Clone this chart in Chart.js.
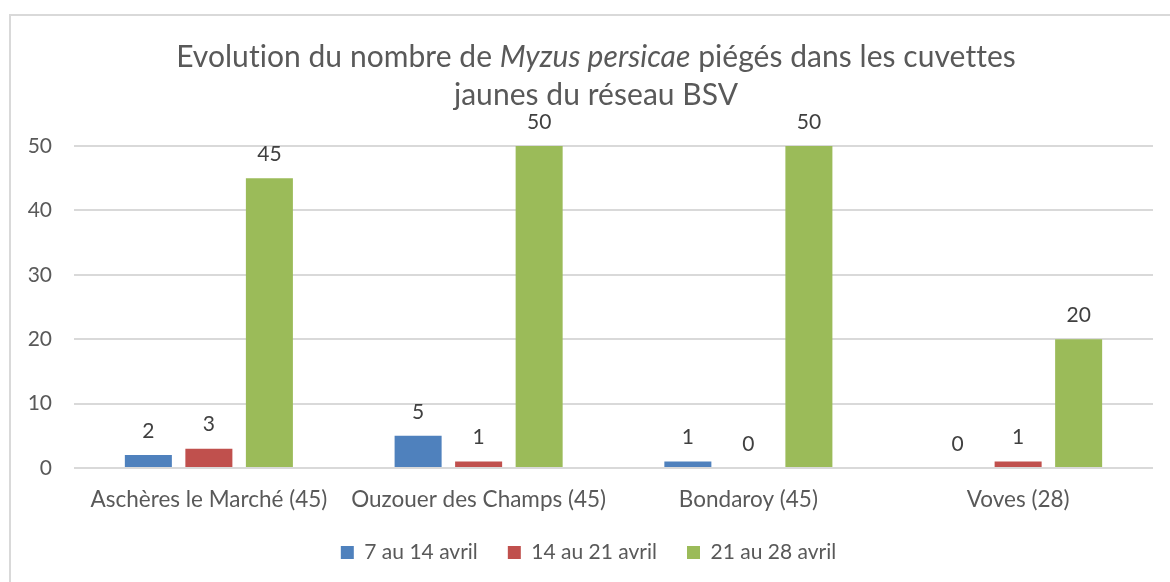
<!DOCTYPE html>
<html>
<head>
<meta charset="utf-8">
<script src="https://cdn.jsdelivr.net/npm/chart.js@4.4.1/dist/chart.umd.min.js"></script>
<style>
  html, body { margin: 0; padding: 0; background: #ffffff; }
  #wrap { width: 1170px; height: 582px; position: relative; }
</style>
</head>
<body>
<div id="wrap"><canvas id="c" width="1170" height="582"></canvas></div>
<script>
const categories = ["Aschères le Marché (45)", "Ouzouer des Champs (45)", "Bondaroy (45)", "Voves (28)"];
const seriesNames = ["7 au 14 avril", "14 au 21 avril", "21 au 28 avril"];
const week1 = [2, 5, 1, 0];
const week2 = [3, 1, 0, 1];
const week3 = [45, 50, 50, 20];
const yTicks = [0, 10, 20, 30, 40, 50];
const titleParts = [
  { text: "Evolution du nombre de ", italic: false },
  { text: "Myzus persicae", italic: true },
  { text: " piégés dans les cuvettes", italic: false }
];
const titleLine2 = "jaunes du réseau BSV";

const FONT = "Lato";
const colors = ["#4F81BD", "#C0504D", "#9BBB59"];

const framePlugin = {
  id: "frame",
  beforeDraw(chart) {
    const ctx = chart.ctx;
    ctx.save();
    ctx.strokeStyle = "#d9d9d9";
    ctx.lineWidth = 2;
    ctx.strokeRect(10, 15, 1300, 700);
    ctx.restore();
  }
};

const titlePlugin = {
  id: "mixedTitle",
  afterDraw(chart) {
    const ctx = chart.ctx;
    ctx.save();
    ctx.fillStyle = "#595959";
    ctx.textBaseline = "middle";
    try { ctx.letterSpacing = "0.05px"; } catch (e) {}
    const size = 30;
    const fontFor = (it) => (it ? "italic " : "") + size + "px " + FONT;
    let total = 0;
    titleParts.forEach(p => { ctx.font = fontFor(p.italic); total += ctx.measureText(p.text).width; });
    const cx = 596;
    let x = cx - total / 2;
    ctx.textAlign = "left";
    titleParts.forEach(p => {
      ctx.font = fontFor(p.italic);
      ctx.fillText(p.text, x, 57);
      x += ctx.measureText(p.text).width;
    });
    ctx.font = fontFor(false);
    ctx.textAlign = "center";
    ctx.fillText(titleLine2, cx, 95);
    ctx.restore();
  }
};

const labelPlugin = {
  id: "valueLabels",
  afterDatasetsDraw(chart) {
    const ctx = chart.ctx;
    ctx.save();
    ctx.fillStyle = "#404040";
    ctx.font = "21px " + FONT;
    ctx.textAlign = "center";
    ctx.textBaseline = "middle";
    chart.data.datasets.forEach((ds, i) => {
      const meta = chart.getDatasetMeta(i);
      meta.data.forEach((el, j) => {
        ctx.fillText(String(ds.data[j]), el.x, el.y - 24);
      });
    });
    ctx.restore();
  }
};

new Chart(document.getElementById("c"), {
  type: "bar",
  data: {
    labels: categories,
    datasets: [
      { label: seriesNames[0], data: week1, backgroundColor: colors[0] },
      { label: seriesNames[1], data: week2, backgroundColor: colors[1] },
      { label: seriesNames[2], data: week3, backgroundColor: colors[2] }
    ]
  },
  options: {
    responsive: false,
    animation: false,
    devicePixelRatio: 1,
    datasets: { bar: { categoryPercentage: 0.673, barPercentage: 0.777 } },
    layout: { padding: { top: 146, left: 24, right: 17, bottom: 9 } },
    plugins: {
      title: { display: false },
      tooltip: { enabled: false },
      legend: {
        position: "bottom",
        labels: {
          color: "#595959",
          font: { family: FONT, size: 21 },
          boxWidth: 13,
          boxHeight: 13,
          padding: 30
        }
      }
    },
    scales: {
      x: {
        grid: { display: false },
        border: { display: false },
        ticks: { color: "#595959", font: { family: FONT, size: 22.5 }, padding: 10, maxRotation: 0, autoSkip: false },
        afterFit(scale) { scale.height = 44; }
      },
      y: {
        min: 0,
        max: 50,
        afterBuildTicks(scale) { scale.ticks = yTicks.map(v => ({ value: v })); },
        grid: { color: "#d9d9d9", lineWidth: 2, drawTicks: false },
        border: { display: false },
        ticks: { color: "#595959", font: { family: FONT, size: 21 }, padding: 22 },
        afterFit(scale) { scale.width = 50; }
      }
    }
  },
  plugins: [framePlugin, titlePlugin, labelPlugin]
});
</script>
</body>
</html>
